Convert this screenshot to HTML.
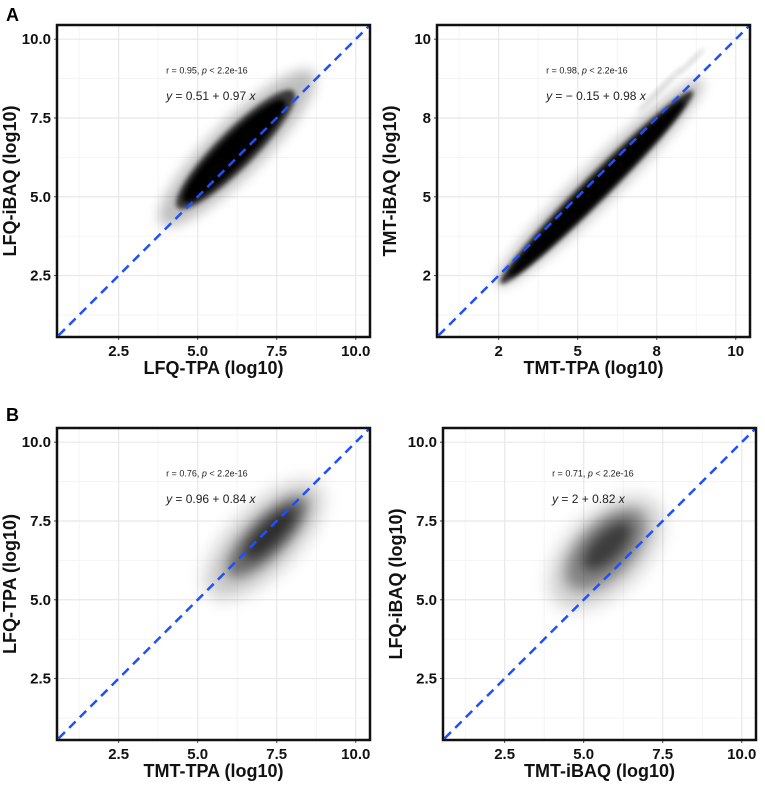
<!DOCTYPE html>
<html><head><meta charset="utf-8"><style>
html,body{margin:0;padding:0;background:#fff;}
svg{display:block;font-family:"Liberation Sans",Arial,sans-serif;}
</style></head><body>
<svg id="fig" width="765" height="785" viewBox="0 0 765 785">
<defs>
<filter id="blur1" x="-50%" y="-50%" width="200%" height="200%"><feGaussianBlur stdDeviation="6"/></filter>
<filter id="blur2" x="-50%" y="-50%" width="200%" height="200%"><feGaussianBlur stdDeviation="2.5"/></filter>
<filter id="blur3" x="-50%" y="-50%" width="200%" height="200%"><feGaussianBlur stdDeviation="9"/></filter>
</defs>
<text x="6" y="21" font-size="18" font-weight="bold">A</text>
<text x="6" y="421" font-size="18" font-weight="bold">B</text>
</svg>
<script>
// shared axis data
const domainMin = 0.55, domainMax = 10.45;
const ticks = [2.5, 5.0, 7.5, 10.0];
const tickLabelsDec = ["2.5", "5.0", "7.5", "10.0"];
const tickLabelsInt = ["2", "5", "8", "10"];
// cloud layers: [centerX, centerY, semiMajor, semiMinor, darkness]
const cloudA1 = [[6.25,6.55,3.4,0.85,0.25],[6.2,6.5,2.6,0.6,0.7],[6.15,6.45,2.25,0.45,1.0]];
const cloudA2 = [[5.7,5.45,4.6,0.6,0.25],[5.6,5.3,4.3,0.4,0.8],[5.6,5.25,3.9,0.3,1.0],[7.6,8.4,1.0,0.08,0.15],[8.6,9.3,0.6,0.07,0.15]];
const cloudB1 = [[7.1,6.9,2.4,1.0,0.22],[7.2,7.0,1.7,0.6,0.45],[7.3,7.1,1.1,0.35,0.6]];
const cloudB2 = [[5.7,6.5,2.2,1.2,0.2],[5.7,6.6,1.6,0.85,0.35],[5.75,6.7,1.0,0.45,0.55]];
const annotR = ["r = 0.95, ","r = 0.98, ","r = 0.76, ","r = 0.71, "];
const annotEq = ["0.51 + 0.97 x","\u2212 0.15 + 0.98 x","0.96 + 0.84 x","2 + 0.82 x"];

const NS = "http://www.w3.org/2000/svg";
const fig = document.getElementById('fig');
function mk(tag, attrs, parent){const e=document.createElementNS(NS,tag);for(const k in attrs)e.setAttribute(k,attrs[k]);(parent||fig).appendChild(e);return e;}

function drawPanel(x0, y0, cloud, labels, xTitle, yTitle, idx, key, soft){
  const W=313, H=312;
  const sx = v => x0 + (v-domainMin)/(domainMax-domainMin)*W;
  const sy = v => y0 + H - (v-domainMin)/(domainMax-domainMin)*H;
  const g = mk('g', {});
  
  
  const minors=[1.25,3.75,6.25,8.75];
  minors.forEach(v=>{
    const a=mk('line',{x1:sx(v),x2:sx(v),y1:y0,y2:y0+H,stroke:'#f2f2f2','stroke-width':0.8},g);
    
    const b=mk('line',{x1:x0,x2:x0+W,y1:sy(v),y2:sy(v),stroke:'#f2f2f2','stroke-width':0.8},g);
    
  });
  ticks.forEach((v,i)=>{
    const a=mk('line',{x1:sx(v),x2:sx(v),y1:y0,y2:y0+H,stroke:'#e8e8e8','stroke-width':1.2},g);
    
    const b=mk('line',{x1:x0,x2:x0+W,y1:sy(v),y2:sy(v),stroke:'#e8e8e8','stroke-width':1.2},g);
    
    const tx=mk('text',{x:sx(v),y:y0+H+19,'font-size':15,'font-weight':'bold','text-anchor':'middle',fill:'#111'},g);
    tx.textContent=labels[i];
    
    const ty=mk('text',{x:x0-6,y:sy(v)+5,'font-size':15,'font-weight':'bold','text-anchor':'end',fill:'#111'},g);
    ty.textContent=labels[i];
    
    mk('line',{x1:sx(v),x2:sx(v),y1:y0+H,y2:y0+H+3,stroke:'#444'},g);
    mk('line',{x1:x0-3,x2:x0,y1:sy(v),y2:sy(v),stroke:'#444'},g);
  });
  cloud.forEach((c,i)=>{
    const rx=c[2]*W/(domainMax-domainMin), ry=c[3]*W/(domainMax-domainMin);
    const filt = i===0 ? (soft?'url(#blur3)':'url(#blur1)') : (soft?'url(#blur1)':'url(#blur2)');
    const e=mk('ellipse',{cx:sx(c[0]),cy:sy(c[1]),rx:rx,ry:ry,fill:'#000','fill-opacity':c[4],
      transform:`rotate(-45 ${sx(c[0])} ${sy(c[1])})`,filter:filt},g);
    
    
  });
  const l=mk('line',{x1:sx(0.6),y1:sy(0.6),x2:sx(domainMax),y2:sy(domainMax),stroke:'#1f4fff','stroke-width':2.5,'stroke-dasharray':'9,6'},g);
  
  const t1=mk('text',{x:sx(4.0),y:sy(9.0)+3,'font-size':9,fill:'#222'},g);
  t1.innerHTML=annotR[idx]+'<tspan font-style="italic">p</tspan> &lt; 2.2e-16';
  
  const t2=mk('text',{x:sx(4.0),y:sy(8.2)+4,'font-size':12,fill:'#222'},g);
  const eq=annotEq[idx].replace(/ x$/,' ');
  t2.innerHTML='<tspan font-style="italic">y</tspan> = '+eq+'<tspan font-style="italic">x</tspan>';
  
  const f=mk('rect',{x:x0,y:y0,width:W,height:H,fill:'none',stroke:'#111','stroke-width':2.5},g);
  
  const xt=mk('text',{x:x0+W/2,y:y0+H+37,'font-size':18,'font-weight':'bold','text-anchor':'middle',fill:'#111'},g);
  xt.textContent=xTitle;
  
  const yx=x0-41, yy=y0+H/2;
  const yt=mk('text',{x:yx,y:yy,'font-size':18,'font-weight':'bold','text-anchor':'middle',fill:'#111',transform:`rotate(-90 ${yx} ${yy})`},g);
  yt.textContent=yTitle;
  
}
drawPanel(57,25,cloudA1,tickLabelsDec,'LFQ-TPA (log10)','LFQ-iBAQ (log10)',0,'a1',false);
drawPanel(437,25,cloudA2,tickLabelsInt,'TMT-TPA (log10)','TMT-iBAQ (log10)',1,'a2',false);
drawPanel(57,428,cloudB1,tickLabelsDec,'TMT-TPA (log10)','LFQ-TPA (log10)',2,'b1',true);
drawPanel(443,428,cloudB2,tickLabelsDec,'TMT-iBAQ (log10)','LFQ-iBAQ (log10)',3,'b2',true);
</script>
</body></html>
